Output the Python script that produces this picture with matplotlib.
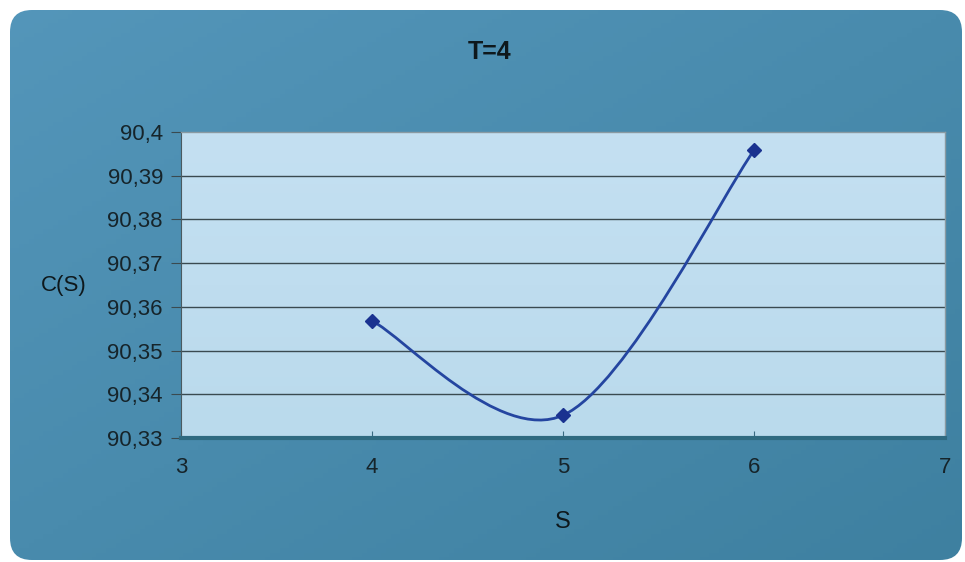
import numpy as np
import matplotlib
matplotlib.use("Agg")
from matplotlib import pyplot as plt
from matplotlib.patches import FancyBboxPatch
from matplotlib.path import Path
from matplotlib.patches import PathPatch
from matplotlib.ticker import FuncFormatter

# data
s_vals = [4, 5, 6]
c_vals = [90.3568, 90.3352, 90.3958]
title = "T=4"
x_label = "S"
y_label = "C(S)"
x_ticks = [3, 4, 5, 6, 7]
y_ticks = [90.33, 90.34, 90.35, 90.36, 90.37, 90.38, 90.39, 90.40]

plt.rcParams['font.family'] = ['Liberation Sans', 'DejaVu Sans']

W, H = 965, 562
fig = plt.figure(figsize=(W / 100, H / 100), dpi=100)
fig.patch.set_facecolor('white')

# rounded blue chart frame with a soft gradient
bg = fig.add_axes([0, 0, 1, 1])
bg.set_xlim(0, W)
bg.set_ylim(H, 0)
bg.axis('off')
frame = FancyBboxPatch((10, 10), W - 13, H - 12, boxstyle="round,pad=0,rounding_size=22",
                       facecolor='none', edgecolor='none')
bg.add_patch(frame)
gx = np.linspace(0, 1, 200)
gy = np.linspace(0, 1, 120)
gxx, gyy = np.meshgrid(gx, gy)
shade = 0.5 * gxx + 0.5 * gyy
c1 = np.array([84, 150, 186]) / 255
c2 = np.array([62, 128, 160]) / 255
img = c1[None, None, :] * (1 - shade[..., None]) + c2[None, None, :] * shade[..., None]
im = bg.imshow(img, extent=(0, W, H, 0), aspect='auto', zorder=0)
im.set_clip_path(frame)

# plot area
ax = fig.add_axes([181 / W, 1 - 438 / H, (945 - 181) / W, (438 - 132) / H])
ax.set_xlim(3, 7)
ax.set_ylim(90.33, 90.40)
ax.patch.set_alpha(0)
pg = np.linspace(0, 1, 100)
pimg = np.zeros((100, 100, 3))
top = np.array([196, 224, 242]) / 255
bot = np.array([186, 218, 236]) / 255
for i in range(100):
    pimg[i, :, :] = top * (1 - pg[i]) + bot * pg[i]
ax.imshow(pimg, extent=(3, 7, 90.33, 90.40), aspect='auto', zorder=0)

for yv in y_ticks[1:-1]:
    ax.axhline(yv, color='#3a4a50', lw=1.0, zorder=1)

# Excel-style smoothed line (Bezier through the data points)
pts = np.column_stack([s_vals, c_vals])
verts = [tuple(pts[0])]
codes = [Path.MOVETO]
n = len(pts)
for i in range(n - 1):
    p0 = pts[i - 1] if i > 0 else pts[i]
    p1 = pts[i]
    p2 = pts[i + 1]
    p3 = pts[i + 2] if i + 2 < n else pts[i + 1]
    cp1 = p1 + (p2 - p0) / 6
    cp2 = p2 - (p3 - p1) / 6
    verts += [tuple(cp1), tuple(cp2), tuple(p2)]
    codes += [Path.CURVE4] * 3
ax.add_patch(PathPatch(Path(verts, codes), facecolor='none', edgecolor='#2445a0',
                       lw=2.0, zorder=3))
ax.plot(s_vals, c_vals, linestyle='none', marker='D', markersize=7.5,
        color='#1a3290', zorder=4)

for sp in ['top', 'right']:
    ax.spines[sp].set_color('#8a9aa2')
    ax.spines[sp].set_linewidth(1.0)
ax.spines['left'].set_color('#4a5a60')
ax.spines['bottom'].set_color('#2f6a80')
ax.spines['bottom'].set_linewidth(3)

ax.set_xticks(x_ticks)
ax.set_yticks(y_ticks)
fmt = FuncFormatter(lambda v, p: ('%g' % round(v, 2)).replace('.', ','))
ax.yaxis.set_major_formatter(fmt)
ax.tick_params(axis='y', direction='out', length=7, color='#3a4a50',
               labelsize=16, labelcolor='#16242a', pad=6)
ax.tick_params(axis='x', direction='in', length=5, color='#3a6a80',
               labelsize=16, labelcolor='#16242a', pad=14)

fig.text(490 / W, 1 - 52 / H, title, ha='center', va='center', fontsize=18,
         fontweight='bold', color='#0e181c')
fig.text(563 / W, 1 - 522 / H, x_label, ha='center', va='center', fontsize=17,
         color='#0e181c')
fig.text(64 / W, 1 - 285 / H, y_label, ha='center', va='center', fontsize=16,
         color='#0e181c')

fig.savefig('out.png', dpi=100, facecolor='white')
